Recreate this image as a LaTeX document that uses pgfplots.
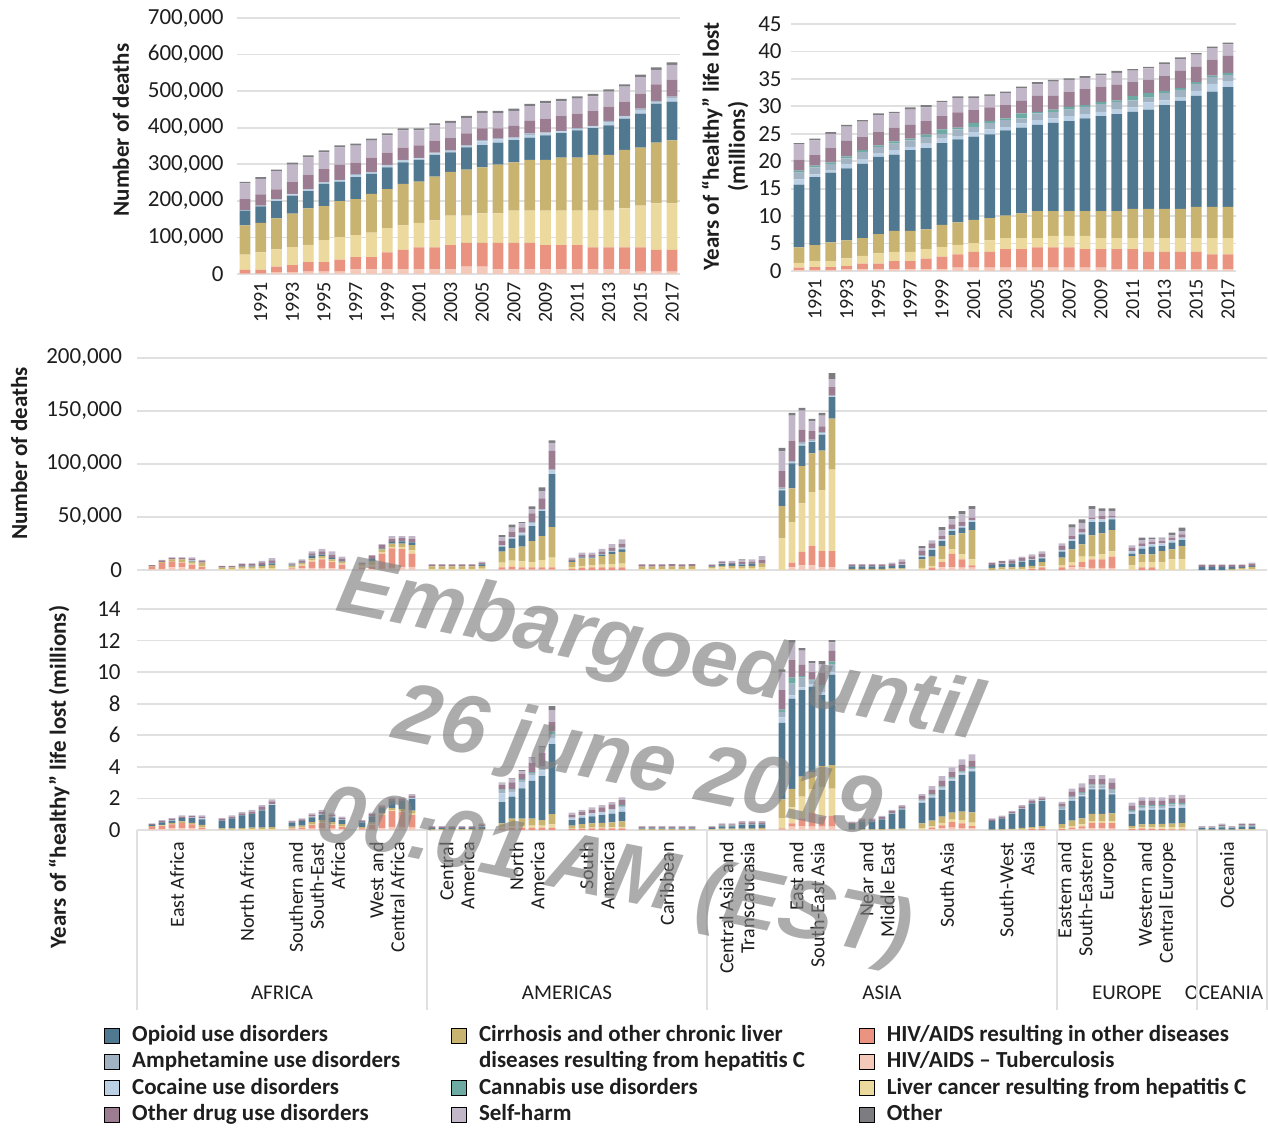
\documentclass[border=0pt]{standalone}
\usepackage{fontspec}
\setmainfont{Carlito}
\newfontfamily\wmfont{Liberation Sans}
\usepackage{pgfplots}
\usepackage{pgfplotstable}
\pgfplotsset{compat=1.18}

\definecolor{cTB}{RGB}{244,201,185}
\definecolor{cHIVO}{RGB}{233,147,128}
\definecolor{cLiv}{RGB}{235,217,158}
\definecolor{cCir}{RGB}{201,179,112}
\definecolor{cOp}{RGB}{80,121,145}
\definecolor{cCoc}{RGB}{187,208,228}
\definecolor{cAmph}{RGB}{161,179,195}
\definecolor{cCan}{RGB}{110,170,164}
\definecolor{cOD}{RGB}{156,124,145}
\definecolor{cSH}{RGB}{193,183,201}
\definecolor{cOth}{RGB}{125,125,129}
\definecolor{gcol}{RGB}{224,224,224}
\definecolor{tcol}{RGB}{30,30,30}

% global deaths (thousands)
\pgfplotstableread{
x TB HIVO Liv Cir Op Coc Amph Can OD SH Oth
1990 1 10 42 80 40 1.5 0.5 0 30 42.5 4.5
1991 1 10 48 80.7 45.4 1.3 0.5 0 30.8 42.6 4.5
1992 5.4 14.5 47.2 85.2 47.2 4 1.4 0 26.3 49.9 4.5
1993 5.4 19.1 48.9 91.6 49 4 1.4 0 31.7 48.1 5.4
1994 6.3 26.3 47.2 99.7 47.2 4 1.4 0 39.9 47.1 5.5
1995 6.3 26.3 59.9 93.4 60.7 3.5 1 0 35.4 46.2 5.5
1996 6.3 32.7 61.6 98.9 53.4 3.6 1 0 41.7 47.1 5.5
1997 12.7 33.5 59.9 98.8 59.8 6 2.2 0 31.7 46.3 5.4
1998 12.7 33.5 67.1 106.1 54.4 3.5 1 0 39.9 46.3 5.4
1999 12.7 46.2 66.2 107 59.8 4.5 1.9 0 33.5 47.2 5.4
2000 12.7 53.5 67.1 113.3 58.9 4.5 1.9 0 33.5 47.2 5.4
2001 12.7 59.8 67.1 113.3 59 4 1.4 0 34.5 40.8 5.4
2002 12.7 59.8 74.4 119.6 59 4.5 1.8 0 32.7 41.7 5.4
2003 12.7 66.2 80.7 119.6 53.5 4 1.5 0 33.5 41.7 5.5
2004 19.9 65.3 74.4 126 60.7 4 1.5 0 32.6 41.7 6.4
2005 19.9 65.3 80.7 126 60.8 10 3.6 0 31.7 41.7 6.4
2006 12.7 72.5 80.7 133.3 59.8 9 3.7 0 26.3 41.7 6.4
2007 12.7 72.5 88 132.3 60.8 5 2.2 0 31.8 40.8 6.3
2008 12.7 72.5 88 138.7 60.7 8 3.8 0 34.5 39.9 6.3
2009 12.7 66.2 94.3 138.7 67.1 5.5 2.6 0 38.1 41.7 6.4
2010 12.7 66.2 94.3 145 67.1 4.5 1.9 0 39.8 40.8 6.4
2011 12.7 66.2 94.3 145 74.4 4.5 1.8 0 39.9 40.8 6.3
2012 12.7 59.8 100.7 152.3 73.4 4.5 1.9 0 39.8 40.8 6.4
2013 12.7 59.8 100.7 152.3 80.7 9 3.7 0 38.9 40.8 6.4
2014 12.7 59.8 107 159.6 86.1 5 2.3 0 38.9 40.8 6.4
2015 6.3 66.2 114.3 158.6 93.4 10 3.6 0 40.8 45.3 6.4
2016 6.3 59.9 126.9 165.9 107 5 2.3 0 45.3 39.9 6.3
2017 6.3 59.9 126.9 172.3 106 10 3.6 0 46.3 40.8 6.3
}\tA

% global DALYs (millions)
\pgfplotstableread{
x TB HIVO Liv Cir Op Coc Amph Can OD SH Oth
1990 0.2 0.4 0.9 2.8 11.45 0.95 1.2 0.4 2.0 2.8 0.2
1991 0.2 0.5 1.1 2.9 12.4 0.5 1.3 0.3 1.9 2.7 0.3
1992 0.2 0.5 1.1 3.4 12.7 0.4 1.2 0.3 2.6 2.6 0.3
1993 0.3 0.6 1.4 3.3 13.1 0.8 1.0 0.4 2.8 2.6 0.3
1994 0.3 1.05 1.4 3.25 13.5 0.9 1.3 0.3 2.4 2.8 0.3
1995 0.3 1.05 1.85 3.5 14.1 0.6 1.2 0.3 2.4 3.1 0.3
1996 0.3 1.5 1.7 3.8 13.9 0.8 1.2 0.4 2.5 2.6 0.3
1997 0.3 1.5 1.7 3.8 14.7 0.6 1.2 0.3 2.5 2.8 0.4
1998 0.3 1.95 1.75 3.6 14.8 0.8 1.2 0.45 2.45 2.5 0.4
1999 0.3 2.3 1.8 4.0 14.9 0.8 0.9 0.8 2.4 2.5 0.3
2000 0.6 2.45 1.7 4.1 15.15 0.5 1.3 0.3 2.8 2.6 0.3
2001 0.6 2.9 1.6 4.2 15.2 0.8 0.95 0.75 2.3 2.2 0.3
2002 0.6 2.9 2.1 4.05 15.25 0.9 1.2 0.35 2.45 2.1 0.3
2003 0.6 3.4 2.0 4.1 15.5 0.6 1.3 0.3 2.4 2.2 0.3
2004 0.6 3.4 2.0 4.5 15.6 0.8 0.9 0.9 2.3 2.3 0.3
2005 0.6 3.7 1.7 4.9 15.7 0.9 1.2 0.3 2.9 2.1 0.4
2006 0.6 3.7 2.1 4.5 16.1 0.8 1.2 0.4 2.5 2.6 0.3
2007 0.6 3.7 2.1 4.5 16.4 0.9 1.2 0.5 2.7 2.2 0.3
2008 0.6 3.4 2.4 4.5 16.9 0.8 1.3 0.3 2.95 2.05 0.3
2009 0.6 3.4 2.0 4.9 17.3 0.8 1.4 0.4 2.8 2.05 0.3
2010 0.3 3.7 2.0 4.9 17.7 0.8 1.4 0.3 2.8 2.2 0.35
2011 0.3 3.7 2.0 5.3 17.7 0.8 1.3 0.8 2.5 2.1 0.3
2012 0.3 3.2 2.5 5.3 18.1 1.3 0.9 0.8 2.4 2.1 0.3
2013 0.3 3.2 2.5 5.3 18.9 0.9 1.3 0.4 2.7 2.2 0.3
2014 0.3 3.2 2.5 5.3 19.7 0.6 1.4 0.3 3.15 2.15 0.3
2015 0.3 3.2 2.5 5.7 20.2 0.9 1.3 0.3 2.8 2.2 0.3
2016 0.3 2.75 2.95 5.7 21.0 1.4 1.2 0.3 2.9 2.1 0.3
2017 0.3 2.75 2.95 5.7 21.8 1.0 1.2 0.4 3.1 2.1 0.3
}\tB

% regional deaths (thousands); x = slot position
\pgfplotstableread{
x TB HIVO Liv Cir Op Coc Amph Can OD SH Oth
1 0.5 2.5 0 0.5 0 0 0 0 1.2 0 0
2 1 5.5 0.3 0.7 0 0 0 0 1.5 0.5 0
3 2.5 5.5 0 2 0 0 0 0 1.5 0.5 0
4 2.5 4.5 0.5 2.5 0 0 0 0 1.5 0.5 0
5 1 4 1 2 0.5 0.5 0 0 1.5 1.5 0
6 0.5 2.5 1 3 0 0 0 0 1.5 1 0
8 0 0 0.8 1.5 0 0 0 0 1.5 0 0
9 0 0 1 1.5 0 0 0 0 1.3 0 0
10 0 0 1.2 2 0.5 0 0 0 1.8 0.8 0
11 0 0 1.2 2 1 0 0 0 1.5 0.6 0
12 0 0 1.5 2.5 0.8 0 0 0 2.5 1.2 0
13 0 0 1.8 3 1.5 0.5 0 0 2.2 2.3 0
15 0.5 1 0.8 1.8 1 0 0 0 1 0.8 0
16 1.5 2.5 1 1.5 0.5 0 0 0 1.5 1.5 0
17 2 6 1.5 1.5 2.5 0 0 0 2.1 2 0
18 2 8 1.5 1.5 1.5 0 0 0 3 2.5 0
19 1.5 6 1 1.5 1.5 0 0 0 3.1 3 0
20 1 4 1 2 0.5 0 0 0 2.1 2 0
22 0.5 2 1 1.5 0 0 0 0 1.9 0 0
23 0.5 3 1 3.5 2.5 0 0 0 3.3 0 0
24 1 14.5 1.5 2.5 1 0 0 0 3 1 0
25 2 18.5 1 3.5 1.5 0 0 0 3 2.5 0
26 2.5 17.5 1.5 3.5 2 0 0 0 3 2 0
27 3 12.5 3 5 2.5 0 0 0 3.5 2.5 0
29 0 0 1 2.5 0 0 0 0 1.8 0 0
30 0 0 1 2.5 0 0 0 0 1.8 0 0
31 0 0 1 2.4 0 0 0 0 1.8 0 0
32 0 0 1 2.5 0 0 0 0 1.7 0 0
33 0 0 1 2.5 0 0 0 0 1.8 0 0
34 0 0 1.2 2.5 1.5 0 0 0 1.8 1 0
36 0.3 2.2 4.4 10.4 4.7 1 0.3 0 4.3 3.2 2
37 0.3 2.8 5.7 11.6 9.1 1.2 0.4 0 5 3.8 3
38 0.3 2.2 5.7 13.8 10.7 1.8 0.7 0 5 3.8 1.2
39 0.3 2.2 5 19.8 14.1 2.8 1 0 8.2 3.7 2.9
40 0.3 2.2 6.9 22.6 23.6 1 0.5 0 10.4 6.9 3.5
41 0.3 2.2 9.1 28.9 49.9 3.4 1 0 17.5 7.6 2.5
43 0 1 2 4.6 1 0 0 0 1.5 1.5 0
44 0 2 2 7 1 0.5 0 0 1.8 2 0
45 0 2.5 2 6.5 1 0.5 0 0 1.8 2 0
46 0 2.5 2.5 8 1.5 0.5 0 0 2 3 0
47 0 2.5 3 9.5 2 1 0 0 3 3.5 0
48 0 2.5 3.5 11 2.5 1.5 0 0 3.9 4 0
50 0 0 0.8 2.5 0 0 0 0 2 0 0
51 0 0 0.8 2.5 0 0 0 0 2 0 0
52 0 0 0.8 2.4 0 0 0 0 2 0 0
53 0 0 0.8 2.7 0 0 0 0 2 0 0
54 0 0 0.8 2.5 0 0 0 0 2 0 0
55 0 0 1 2.6 0 0 0 0 2 0 0
57 0 0 1.5 1.5 0.5 0 0 0 1.3 0.5 0
58 0 0 2.5 1.5 1.5 0.5 0 0 1.5 1 0
59 0 0 2 2 1.5 0 0 0 1.5 1.5 0
60 0 0 2 1.5 1.5 0 0.5 0 2 2 0.5
61 0 0 2 2 2 0 0 0 2 2 0
62 0 0 3 3 0 0 0 0 3.2 4 0
64 0 0 29.8 30.5 14.7 1 1.6 0 15.6 18.8 3.3
65 2.5 4.4 38.3 31.8 23.5 1.5 0.6 0 18.9 24.2 2.5
66 4.4 12.6 45.8 35.2 19.4 1.5 1.7 0 11.9 17.9 2.5
67 4.4 18.2 50.9 36.5 10.6 1 1.5 0 7.8 9.4 2.2
68 2.5 15.4 57.5 37.3 15.1 1.2 1 0 5.6 10.1 2.5
69 2.5 15.4 76.9 48.1 20.1 1 0.6 0 8 7.5 5.7
71 0 0 0 1 2.5 0 0 0 1.8 0 0
72 0 0 0 1 2.5 0 0 0 1.8 0 0
73 0 0 0 1 2.5 0 0 0 1.8 0 0
74 0 0 0 1 2.5 0 0 0 1.8 0 0
75 0 0 0.5 1 2.5 0 0 0 1.5 1.4 0
76 0 0 0.5 1 3 0.5 0 0 3 2 0
78 0 0 1.9 8.1 2.2 1 0.9 0 4 2.5 2
79 0 2.2 1.6 8.8 6.2 1.9 0 0 4.4 2.8 0
80 2.5 5 2.5 12.6 4.7 1.6 0 0 3.1 5.4 3.1
81 2.5 12.6 4.4 13.2 4 2.2 0 0 4.1 4.7 3.2
82 2.2 7.8 4.8 19.8 5.4 1.6 0 0 3.6 7.2 3.2
83 2.2 2.2 5.6 27.7 7.5 1.6 0 0 2.5 7.8 3.2
85 0 0 0 2 2.5 0 0 0 2.4 0 0
86 0 0 0.5 2 3 0.5 0 0 2.5 0 0
87 0 0 0.5 2 3.5 0 0 0 2.5 1.5 0
88 0 0 1 2 5 0.5 0 0 2.6 1.5 0
89 0 1 1 2 5.5 0.5 0 0 2.8 2 0
90 0 2.5 1 4 3.5 1 0 0 3.1 2.5 0
92 0 2.5 2.2 6.9 5.7 1.6 0 0 3.8 2.5 0
93 2.5 1.9 3.1 12 7.8 1.6 0 0 3.1 7.9 3.1
94 2.5 5 5.1 11.6 9.4 1.6 0 0 3.7 5.6 3.2
95 2 8 2.6 20.1 12.5 2.5 0 0 1.6 7.8 3.2
96 2 8 4.8 19.8 10.6 2.5 0 0 3.2 4.7 2.5
97 2 10.6 5 20.1 10 1.6 0 0 1.6 4.7 2.5
99 0 0 4.4 8.8 2.2 2.5 0 0 3.1 2.2 0
100 0 2.5 5 7.3 5.3 2.5 0 0 2.5 3.1 2.3
101 0 2.5 5 7.3 7.2 2.2 0 0 2.2 2.5 1.6
102 0 0 7.5 10.4 4.7 2.5 0 0 2.2 2.2 1
103 0 0 10 9.5 6.3 2.2 0 0 2.5 2.2 2.5
104 0 0 10 12.6 5.7 2.2 0 0 3.1 3.1 3.2
106 0 0 0 0 3 0 0 0 2 0 0
107 0 0 0 0 3 0 0 0 2 0 0
108 0 0 0 0 3 0 0 0 2 0 0
109 0 0 0 1 2 0 0 0 2 0 0
110 0 0 0.5 1.5 1 0 0 0 2 0 0
111 0 0 1 2 1 0 0 0 1.9 1 0
}\tC

% regional DALYs (millions)
\pgfplotstableread{
x TB HIVO Liv Cir Op Coc Amph Can OD SH Oth
1 0.05 0.15 0 0.05 0.07 0 0 0 0.05 0.05 0
2 0.05 0.2 0.03 0.05 0.15 0 0 0 0.08 0.07 0
3 0.1 0.25 0 0.1 0.15 0.02 0 0 0.08 0.06 0
4 0.1 0.35 0 0.1 0.2 0 0 0 0.1 0.08 0
5 0.1 0.25 0 0.1 0.3 0.03 0 0 0.1 0.05 0
6 0.05 0.1 0.03 0.15 0.35 0.05 0 0 0.1 0.1 0
8 0 0 0.03 0.07 0.5 0 0 0 0.1 0.06 0
9 0 0 0.03 0.08 0.62 0 0 0 0.12 0.08 0
10 0 0 0.04 0.08 0.8 0 0 0 0.14 0.08 0
11 0 0 0.05 0.1 0.85 0.02 0 0 0.15 0.1 0
12 0 0 0.05 0.1 1.1 0.03 0 0 0.18 0.12 0
13 0 0 0.06 0.12 1.4 0.04 0.02 0 0.18 0.12 0
15 0.03 0.05 0.03 0.1 0.25 0 0 0 0.08 0.05 0
16 0.05 0.1 0.03 0.1 0.3 0 0 0 0.1 0.06 0
17 0.08 0.25 0.05 0.12 0.3 0.05 0 0 0.12 0.08 0
18 0.1 0.35 0.05 0.12 0.35 0.05 0 0 0.15 0.1 0
19 0.08 0.25 0.05 0.12 0.3 0.05 0 0 0.12 0.08 0
20 0.05 0.15 0.05 0.12 0.25 0.04 0 0 0.1 0.08 0
22 0.02 0.08 0 0.08 0.3 0 0 0 0.1 0.05 0
23 0.03 0.3 0.03 0.1 0.4 0 0 0 0.14 0.1 0
24 0.1 0.85 0.03 0.1 0.3 0 0 0 0.12 0.08 0
25 0.2 1.0 0.04 0.15 0.45 0 0 0 0.15 0.08 0
26 0.2 0.95 0.04 0.15 0.5 0 0 0 0.15 0.08 0
27 0.15 0.8 0.08 0.2 0.75 0.05 0 0 0.15 0.1 0
29 0 0 0 0.05 0.07 0 0 0 0.08 0.05 0
30 0 0 0 0.05 0.07 0 0 0 0.08 0.05 0
31 0 0 0 0.05 0.07 0 0 0 0.08 0.05 0
32 0 0 0 0.05 0.07 0 0 0 0.08 0.05 0
33 0 0 0 0.05 0.07 0 0 0 0.08 0.05 0
34 0 0 0 0.05 0.15 0.05 0 0 0.1 0.07 0
36 0 0.1 0.05 0.27 1.35 0.55 0.2 0.05 0.28 0.1 0.05
37 0 0.15 0.1 0.47 1.39 0.3 0.12 0.04 0.45 0.2 0.05
38 0 0.15 0.1 0.47 1.92 0.4 0.13 0.05 0.35 0.18 0.05
39 0 0.15 0.12 0.45 2.4 0.35 0.15 0.05 0.6 0.28 0.05
40 0 0.15 0.12 0.36 2.79 0.35 0.2 0.05 0.85 0.4 0.05
41 0 0.15 0.2 0.65 4.44 0.4 0.2 0.2 0.6 0.75 0.26
43 0 0.05 0.03 0.2 0.35 0.15 0 0 0.2 0.12 0
44 0 0.08 0.04 0.25 0.4 0.15 0 0 0.22 0.13 0
45 0 0.1 0.05 0.27 0.45 0.18 0 0 0.24 0.14 0
46 0 0.1 0.05 0.3 0.5 0.2 0 0 0.28 0.15 0
47 0 0.1 0.06 0.33 0.55 0.25 0.03 0 0.3 0.15 0
48 0 0.1 0.07 0.38 0.6 0.32 0.05 0.05 0.33 0.17 0
50 0 0 0 0.06 0.04 0.03 0 0 0.08 0.04 0
51 0 0 0 0.06 0.04 0.03 0 0 0.08 0.04 0
52 0 0 0 0.06 0.04 0.03 0 0 0.08 0.04 0
53 0 0 0 0.06 0.04 0.03 0 0 0.08 0.04 0
54 0 0 0 0.06 0.04 0.03 0 0 0.08 0.04 0
55 0 0 0 0.06 0.04 0.03 0 0 0.08 0.04 0
57 0 0 0.02 0.04 0.08 0 0 0 0.07 0.04 0
58 0 0 0.03 0.05 0.15 0 0.02 0.02 0.08 0.07 0
59 0 0 0.03 0.05 0.15 0 0.02 0.02 0.08 0.07 0
60 0 0 0.03 0.06 0.25 0 0.02 0.02 0.11 0.08 0
61 0 0 0.03 0.06 0.25 0 0.02 0.02 0.11 0.08 0
62 0 0.02 0.04 0.07 0.22 0 0.02 0.02 0.1 0.08 0
64 0.03 0.07 0.64 1.2 4.85 0.35 0.35 0.14 1.23 1.16 0.15
65 0.21 0.21 1.01 1.17 5.73 0.2 0.74 0.38 1.11 1.11 0.16
66 0.25 0.49 1.37 1.27 5.48 0.17 0.63 0.09 0.71 0.91 0.15
67 0.21 0.89 1.5 1.03 5.44 0.15 0.25 0.05 0.5 0.53 0.15
68 0.21 0.63 1.9 1.31 4.49 0.21 0.32 0.1 0.79 0.55 0.19
69 0.21 0.68 1.73 1.49 5.74 0.17 0.49 0.15 0.69 0.53 0.15
71 0 0 0 0.03 0.35 0 0 0 0.1 0.05 0
72 0 0 0 0.04 0.5 0.02 0 0 0.12 0.06 0
73 0 0 0 0.04 0.5 0 0.02 0 0.12 0.06 0
74 0 0 0 0.05 0.62 0 0.03 0 0.12 0.07 0
75 0 0 0.02 0.05 0.95 0 0.04 0 0.14 0.07 0
76 0 0 0.03 0.06 1.2 0 0.05 0.02 0.14 0.08 0
78 0.02 0 0.1 0.3 1.3 0.1 0.05 0.06 0.25 0.1 0
79 0.05 0.1 0.1 0.35 1.45 0.1 0.05 0.06 0.3 0.22 0
80 0.1 0.2 0.15 0.4 1.7 0.1 0.05 0.07 0.35 0.3 0
81 0.15 0.35 0.15 0.45 2.0 0.1 0.06 0.07 0.34 0.3 0
82 0.12 0.3 0.2 0.55 2.3 0.12 0.06 0.07 0.4 0.35 0
83 0.1 0.15 0.22 0.65 2.6 0.12 0.08 0.07 0.4 0.4 0
85 0 0 0 0.03 0.55 0 0 0 0.1 0.06 0
86 0 0 0 0.04 0.7 0 0 0 0.1 0.07 0
87 0 0 0.02 0.05 0.95 0.02 0 0 0.11 0.07 0
88 0 0 0.03 0.1 1.2 0.02 0 0 0.14 0.09 0
89 0 0.05 0.03 0.1 1.5 0.03 0 0 0.14 0.09 0
90 0 0.08 0.04 0.12 1.6 0.03 0 0 0.14 0.1 0
92 0 0.05 0.08 0.25 0.9 0.05 0.12 0.03 0.18 0.13 0
93 0.05 0.1 0.1 0.35 1.25 0.07 0.15 0.05 0.3 0.2 0
94 0.08 0.15 0.12 0.38 1.4 0.07 0.15 0.05 0.3 0.25 0
95 0.1 0.35 0.12 0.45 1.55 0.08 0.18 0.05 0.35 0.25 0
96 0.1 0.35 0.12 0.45 1.55 0.08 0.18 0.05 0.35 0.25 0
97 0.08 0.35 0.12 0.5 1.2 0.08 0.2 0.05 0.4 0.29 0
99 0 0.05 0.05 0.15 0.75 0.1 0.1 0.08 0.25 0.2 0
100 0 0.1 0.08 0.18 0.88 0.12 0.1 0.08 0.3 0.23 0
101 0 0.08 0.1 0.2 0.9 0.12 0.1 0.08 0.27 0.22 0
102 0 0.05 0.12 0.22 0.9 0.12 0.1 0.08 0.26 0.22 0
103 0 0.04 0.14 0.22 0.98 0.14 0.1 0.08 0.3 0.22 0
104 0 0.04 0.15 0.25 0.95 0.15 0.1 0.08 0.28 0.22 0
106 0 0 0 0.02 0.1 0 0.03 0 0.06 0.04 0
107 0 0 0 0.02 0.1 0 0.03 0 0.06 0.04 0
108 0 0 0 0.02 0.15 0 0.05 0.02 0.1 0.06 0
109 0 0 0 0.02 0.1 0 0.03 0 0.06 0.04 0
110 0 0 0.02 0.03 0.15 0 0.05 0.02 0.1 0.05 0
111 0 0 0.02 0.03 0.15 0 0.05 0.02 0.1 0.05 0
}\tD

\newcommand\stk[1]{%
\addplot[fill=cTB,draw=none] table[x=x,y=TB]{#1};
\addplot[fill=cHIVO,draw=none] table[x=x,y=HIVO]{#1};
\addplot[fill=cLiv,draw=none] table[x=x,y=Liv]{#1};
\addplot[fill=cCir,draw=none] table[x=x,y=Cir]{#1};
\addplot[fill=cOp,draw=none] table[x=x,y=Op]{#1};
\addplot[fill=cCoc,draw=none] table[x=x,y=Coc]{#1};
\addplot[fill=cAmph,draw=none] table[x=x,y=Amph]{#1};
\addplot[fill=cCan,draw=none] table[x=x,y=Can]{#1};
\addplot[fill=cOD,draw=none] table[x=x,y=OD]{#1};
\addplot[fill=cSH,draw=none] table[x=x,y=SH]{#1};
\addplot[fill=cOth,draw=none] table[x=x,y=Oth]{#1};
}

\pgfplotsset{
  base/.style={
    scale only axis, ybar stacked, anchor=south west,
    axis line style={draw=none}, major tick length=0pt,
    ymajorgrids, grid style={draw=gcol, line width=0.9pt},
    enlarge x limits=false, enlarge y limits=false,
    /pgf/number format/assume math mode=true,
    tick label style={inner sep=0pt, text=tcol},
    yticklabel style={font=\fontsize{11.5}{13}\selectfont},
    ylabel style={font=\bfseries\fontsize{11.5}{13}\selectfont, text=tcol, anchor=center},
  },
}

\begin{document}
\begin{tikzpicture}
\path[use as bounding box] (0pt,0pt) rectangle (634pt,-564pt);

% top-left: deaths by year
\begin{axis}[base, at={(118.5pt,-137pt)}, width=221.5pt, height=128pt, bar width=5.4pt,
  xmin=1989.5, xmax=2017.5, ymin=0, ymax=700,
  ytick={0,100,200,300,400,500,600,700},
  yticklabels={0,{100,000},{200,000},{300,000},{400,000},{500,000},{600,000},{700,000}},
  yticklabel shift=6.5pt,
  xtick={1991,1993,...,2017},
  /pgf/number format/1000 sep={},
  xticklabel style={rotate=90, anchor=east, font=\fontsize{10}{12}\selectfont},
  xticklabel shift=4pt,
  ylabel={Number of deaths},
  ylabel style={at={(axis description cs:-0.262,0.5625)}}]
\stk{\tA}
\end{axis}

% top-right: DALYs by year
\begin{axis}[base, at={(395.5pt,-135.5pt)}, width=222.5pt, height=123.5pt, bar width=5.4pt,
  xmin=1989.5, xmax=2017.5, ymin=0, ymax=45,
  ytick={0,5,...,45},
  yticklabel shift=4.5pt,
  xtick={1991,1993,...,2017},
  /pgf/number format/1000 sep={},
  xticklabel style={rotate=90, anchor=east, font=\fontsize{10}{12}\selectfont},
  xticklabel shift=4pt,
  ylabel={Years of “healthy” life lost\\(millions)},
  ylabel style={align=center, at={(axis description cs:-0.148,0.504)}}]
\stk{\tB}
\end{axis}

% middle: regional deaths
\begin{axis}[base, at={(68.5pt,-285pt)}, width=565pt, height=106pt, bar width=3.3pt,
  xmin=-0.5, xmax=112.5, ymin=0, ymax=200,
  ytick={0,50,100,150,200},
  yticklabels={0,{50,000},{100,000},{150,000},{200,000}},
  yticklabel shift=7.3pt,
  xtick=\empty,
  ylabel={Number of deaths},
  ylabel style={at={(axis description cs:-0.1044,0.5495)}}]
\stk{\tC}
\end{axis}

% bottom: regional DALYs
\begin{axis}[base, at={(68.5pt,-415pt)}, width=565pt, height=110.5pt, bar width=3.3pt,
  xmin=-0.5, xmax=112.5, ymin=0, ymax=14,
  ytick={0,2,4,6,8,10,12,14},
  yticklabel shift=8pt,
  clip=false,
  xtick={3.5,10.5,17.5,24.5,31.5,38.5,45.5,52.5,59.5,66.5,73.5,80.5,87.5,94.5,101.5,108.5},
  xticklabels={{East Africa},{North Africa},{Southern and\\South-East\\Africa},{West and\\Central Africa},{Central\\America},{North\\America},{South\\America},{Caribbean},{Central Asia and\\Transcaucasia},{East and\\South-East Asia},{Near and\\Middle East},{South Asia},{South-West\\Asia},{Eastern and\\South-Eastern\\Europe},{Western and\\Central Europe},{Oceania}},
  xticklabel style={rotate=90, anchor=east, align=right, font=\fontsize{10}{10.5}\selectfont},
  xticklabel shift=6pt,
  ylabel={Years of “healthy” life lost (millions)},
  ylabel style={at={(axis description cs:-0.069,0.24)}}]
\stk{\tD}
\draw[gcol, line width=0.9pt] (axis cs:-0.5,0) -- ([yshift=-90pt]axis cs:-0.5,0);
\draw[gcol, line width=0.9pt] (axis cs:28.5,0) -- ([yshift=-90pt]axis cs:28.5,0);
\draw[gcol, line width=0.9pt] (axis cs:56.5,0) -- ([yshift=-90pt]axis cs:56.5,0);
\draw[gcol, line width=0.9pt] (axis cs:91.5,0) -- ([yshift=-90pt]axis cs:91.5,0);
\draw[gcol, line width=0.9pt] (axis cs:105.5,0) -- ([yshift=-90pt]axis cs:105.5,0);
\draw[gcol, line width=0.9pt] (axis cs:112.5,0) -- ([yshift=-90pt]axis cs:112.5,0);
\node[font=\fontsize{10.5}{12}\selectfont, text=tcol] at ([yshift=-81.5pt]axis cs:14,0) {AFRICA};
\node[font=\fontsize{10.5}{12}\selectfont, text=tcol] at ([yshift=-81.5pt]axis cs:42.5,0) {AMERICAS};
\node[font=\fontsize{10.5}{12}\selectfont, text=tcol] at ([yshift=-81.5pt]axis cs:74,0) {ASIA};
\node[font=\fontsize{10.5}{12}\selectfont, text=tcol] at ([yshift=-81.5pt]axis cs:98.5,0) {EUROPE};
\node[font=\fontsize{10.5}{12}\selectfont, text=tcol, inner xsep=0pt] at ([yshift=-81.5pt]axis cs:108.2,0) {OCEANIA};
\end{axis}

% legend
\begin{axis}[hide axis, scale only axis, width=1pt, height=1pt,
  at={(52pt,-511.5pt)}, anchor=north west,
  xmin=0, xmax=1, ymin=0, ymax=1,
  legend columns=3,
  legend cell align=left,
  legend image code/.code={\fill[#1] (0pt,-3.75pt) rectangle (7.5pt,3.75pt);},
  legend style={at={(0,1)}, anchor=north west, draw=none, fill=none,
    inner sep=0pt, column sep=0pt, row sep=1.2pt,
    font=\bfseries\fontsize{11.5}{13}\selectfont, text=tcol,
    nodes={inner sep=0pt, text height=9pt, text depth=3pt},
    /tikz/every odd column/.append style={column sep=6pt}}]
\addlegendimage{fill=cOp}\addlegendentry{\makebox[159.5pt][l]{Opioid use disorders}}
\addlegendimage{fill=cCir}\addlegendentry{\makebox[190pt][l]{Cirrhosis and other chronic liver}}
\addlegendimage{fill=cHIVO}\addlegendentry{HIV/AIDS resulting in other diseases}
\addlegendimage{fill=cAmph}\addlegendentry{\makebox[159.5pt][l]{Amphetamine use disorders}}
\addlegendimage{empty legend}\addlegendentry{\makebox[190pt][l]{diseases resulting from hepatitis C}}
\addlegendimage{fill=cTB}\addlegendentry{HIV/AIDS – Tuberculosis}
\addlegendimage{fill=cCoc}\addlegendentry{\makebox[159.5pt][l]{Cocaine use disorders}}
\addlegendimage{fill=cCan}\addlegendentry{\makebox[190pt][l]{Cannabis use disorders}}
\addlegendimage{fill=cLiv}\addlegendentry{Liver cancer resulting from hepatitis C}
\addlegendimage{fill=cOD}\addlegendentry{\makebox[159.5pt][l]{Other drug use disorders}}
\addlegendimage{fill=cSH}\addlegendentry{\makebox[190pt][l]{Self-harm}}
\addlegendimage{fill=cOth}\addlegendentry{Other}
\end{axis}

% watermark
\node[rotate=-11.5, align=center, text=black!50, text opacity=0.65,
  font=\wmfont\bfseries\itshape\fontsize{41.5}{57}\selectfont]
  at (318.5pt,-383pt) {Embargoed until\\26 june 2019\\00:01 AM (EST)};
\end{tikzpicture}
\end{document}
